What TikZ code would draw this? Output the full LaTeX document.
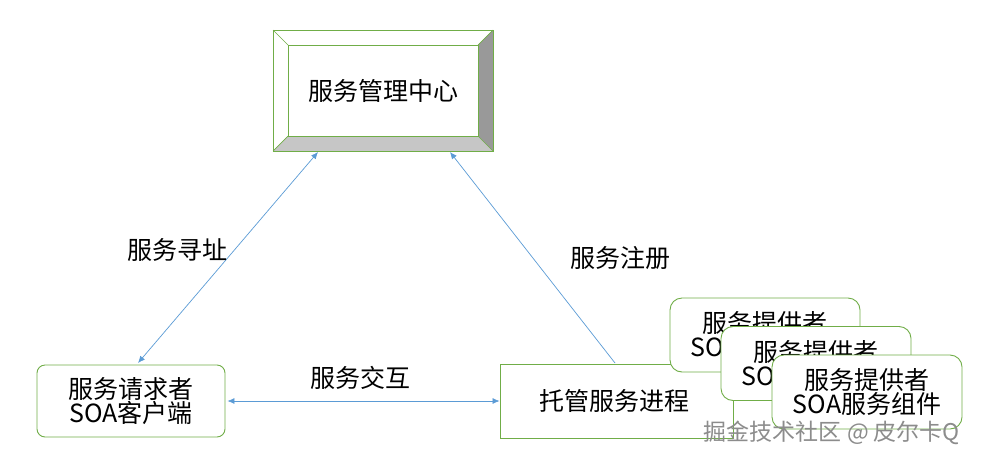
\documentclass[tikz,border=0pt]{standalone}
\usepackage{fontspec}
\setmainfont{Noto Sans CJK SC}
\usetikzlibrary{arrows.meta}
\definecolor{gr}{RGB}{112,173,71}
\definecolor{bl}{RGB}{91,155,213}
\tikzset{
  x=1pt,y=-1pt,
  box/.style={draw=gr,line width=0.9pt,fill=white,align=center,font=\fontsize{25}{30}\selectfont},
  conn/.style={draw=bl,line width=0.7pt,-{Latex[length=7pt,width=6pt]}},
  conn2/.style={draw=bl,line width=0.7pt,{Latex[length=7pt,width=6pt]}-{Latex[length=7pt,width=6pt]}},
  lbl/.style={font=\fontsize{25}{28}\selectfont}
}
\begin{document}
\begin{tikzpicture}
\useasboundingbox (0,0) rectangle (987,461);
% bevel box
\fill[white] (273,30) rectangle (493,151);
\fill[gray!45] (273,151) -- (288,136) -- (478,136) -- (493,151) -- cycle;
\fill[gray!80] (493,30) -- (478,45) -- (478,136) -- (493,151) -- cycle;
\draw[gr,line width=0.9pt] (273,30) rectangle (493,151);
\draw[gr,line width=0.9pt] (288,45) rectangle (478,136);
\draw[gr,line width=0.7pt] (273,30)--(288,45) (493,30)--(478,45) (273,151)--(288,136) (493,151)--(478,136);
\node[lbl] (center) at (383,91) {服务管理中心};
\coordinate (cl) at (318,152);
\coordinate (cr) at (450,152);
% client
\node[box,rounded corners=8pt,minimum width=188pt,minimum height=72pt,inner sep=0pt] (client) at (131,401) {服务请求者\\[-6pt]SOA客户端};
% host
\node[box,minimum width=233pt,minimum height=74pt,inner sep=0pt] (host) at (616.5,401) {};
\node[lbl] (hostlbl) at (614,401) {托管服务进程};
\node[box,rounded corners=12pt,minimum width=190pt,minimum height=74pt,inner sep=0pt] (p1) at (765,335) {服务提供者\\[-6pt]SOA服务组件};
\node[box,rounded corners=12pt,minimum width=190pt,minimum height=74pt,inner sep=0pt] (p2) at (816,363.5) {服务提供者\\[-6pt]SOA服务组件};
\node[box,rounded corners=12pt,minimum width=190pt,minimum height=74pt,inner sep=0pt] (p3) at (867,392) {服务提供者\\[-6pt]SOA服务组件};
% connectors
\coordinate (ca) at (138,363);
\coordinate (hb) at (615,363);
\draw[conn2] (ca) -- (cl);
\draw[conn] (hb) -- (cr);
\draw[conn2] (client.east) ++(2,0) -- (host.west);
\node[lbl] (l1) at (177,250) {服务寻址};
\node[lbl] (l2) at (620,258) {服务注册};
\node[lbl] (l3) at (360,378) {服务交互};
\node[font=\fontsize{23}{24}\selectfont,text=gray!90] (wm) at (832,433) {掘金技术社区 @ 皮尔卡Q};
\end{tikzpicture}
\end{document}
